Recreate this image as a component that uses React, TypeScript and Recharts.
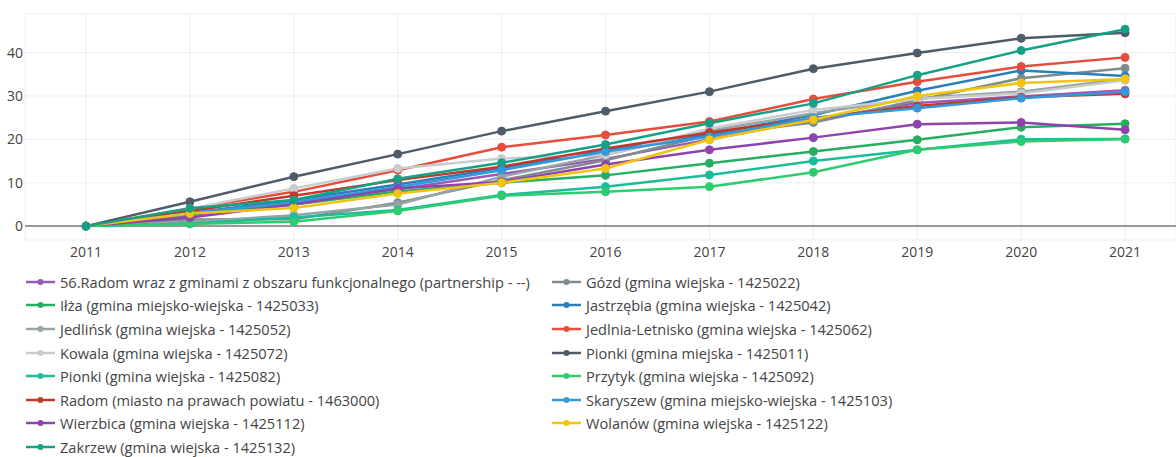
import React from 'react';
import { LineChart, Line, XAxis, YAxis, CartesianGrid, ReferenceLine } from 'recharts';

const years = [2011, 2012, 2013, 2014, 2015, 2016, 2017, 2018, 2019, 2020, 2021];

const seriesNames = [
  '56.Radom wraz z gminami z obszaru funkcjonalnego (partnership - --)',
  'Gózd (gmina wiejska - 1425022)',
  'Iłża (gmina miejsko-wiejska - 1425033)',
  'Jastrzębia (gmina wiejska - 1425042)',
  'Jedlińsk (gmina wiejska - 1425052)',
  'Jedlnia-Letnisko (gmina wiejska - 1425062)',
  'Kowala (gmina wiejska - 1425072)',
  'Pionki (gmina miejska - 1425011)',
  'Pionki (gmina wiejska - 1425082)',
  'Przytyk (gmina wiejska - 1425092)',
  'Radom (miasto na prawach powiatu - 1463000)',
  'Skaryszew (gmina miejsko-wiejska - 1425103)',
  'Wierzbica (gmina wiejska - 1425112)',
  'Wolanów (gmina wiejska - 1425122)',
  'Zakrzew (gmina wiejska - 1425132)',
];

const seriesColors = [
  '#9b59b6', '#7f8c8d', '#27ae60', '#2980b9', '#95a5a6',
  '#e74c3c', '#c8cccf', '#4f5b68', '#1abc9c', '#2ecc71',
  '#c0392b', '#3498db', '#8e44ad', '#f1c40f', '#16a085',
];

const radomArea = [0, 2.5, 5.5, 8.5, 12.0, 15.5, 20.0, 24.5, 28.4, 29.9, 31.3];
const gozd = [0, 1.5, 1.6, 5.4, 10.6, 15.2, 21.0, 23.9, 29.0, 34.1, 36.4];
const ilza = [0, 2.8, 5.0, 8.0, 10.0, 11.7, 14.5, 17.2, 19.9, 22.8, 23.6];
const jastrzebia = [0, 3.0, 6.0, 9.6, 13.4, 17.5, 21.2, 25.6, 31.2, 35.9, 34.6];
const jedlinsk = [0, 1.0, 2.5, 5.0, 11.4, 16.4, 22.0, 26.0, 29.5, 31.0, 34.0];
const jedlnia = [0, 4.0, 7.9, 12.9, 18.2, 21.0, 24.1, 29.3, 33.3, 36.8, 38.9];
const kowala = [0, 4.0, 8.7, 13.3, 15.6, 16.4, 22.5, 26.8, 29.3, 30.6, 33.6];
const pionkiM = [0, 5.6, 11.4, 16.6, 21.9, 26.5, 31.0, 36.3, 39.9, 43.3, 44.6];
const pionkiW = [0, 0.6, 2.0, 3.7, 7.2, 9.1, 11.8, 15.0, 17.6, 20.0, 20.1];
const przytyk = [0, 0.5, 1.0, 3.5, 7.0, 7.9, 9.1, 12.4, 17.6, 19.5, 20.1];
const radom = [0, 3.5, 7.0, 10.6, 13.7, 17.9, 21.6, 24.8, 27.7, 29.7, 30.5];
const skaryszew = [0, 3.0, 5.5, 9.0, 12.9, 17.2, 20.6, 25.0, 27.2, 29.5, 31.0];
const wierzbica = [0, 2.0, 5.0, 8.7, 10.2, 14.2, 17.6, 20.4, 23.5, 23.9, 22.2];
const wolanow = [0, 2.9, 4.2, 7.5, 10.0, 13.3, 19.9, 24.5, 30.0, 33.0, 33.9];
const zakrzew = [0, 4.1, 6.0, 10.9, 14.6, 18.8, 23.7, 28.3, 34.8, 40.5, 45.4];

const seriesValues = [
  radomArea, gozd, ilza, jastrzebia, jedlinsk, jedlnia, kowala, pionkiM,
  pionkiW, przytyk, radom, skaryszew, wierzbica, wolanow, zakrzew,
];

const yTicks = [0, 10, 20, 30, 40];

const data = years.map((year, i) => {
  const row: Record<string, number> = { year };
  seriesValues.forEach((vals, s) => {
    row[`s${s}`] = vals[i];
  });
  return row;
});

const font = '"Open Sans", sans-serif';
const textColor = '#444';

const LegendItem = ({ name, color }: { name: string; color: string }) => (
  <div style={{ display: 'flex', alignItems: 'center', height: 23.6 }}>
    <svg width={29} height={10} style={{ marginRight: 5 }}>
      <line x1={0} y1={5} x2={29} y2={5} stroke={color} strokeWidth={2.5} />
      <circle cx={14.5} cy={5} r={3} fill={color} />
    </svg>
    <span>{name}</span>
  </div>
);

export default function App() {
  return (
    <div style={{ position: 'absolute', left: 0, top: 0, width: 1176, height: 457, background: '#fff', fontFamily: font }}>
      <LineChart width={1176} height={270} data={data} margin={{ top: 14, right: 0, left: 0, bottom: 0 }}>
        <CartesianGrid stroke="#eee" strokeWidth={1} />
        <XAxis
          dataKey="year"
          type="number"
          domain={[2010.413, 2021.49]}
          ticks={years}
          axisLine={false}
          tickLine={false}
          tickSize={0}
          tickMargin={7}
          height={30}
          tick={{ fill: textColor, fontSize: 14, fontFamily: font }}
        />
        <YAxis
          domain={[-3.2, 48.9]}
          ticks={yTicks}
          axisLine={false}
          tickLine={false}
          tickSize={0}
          tickMargin={2}
          width={25}
          tick={{ fill: textColor, fontSize: 14, fontFamily: font }}
        />
        <ReferenceLine y={0} stroke="#999" strokeWidth={2} />
        {seriesNames.map((name, s) => (
          <Line
            key={name}
            name={name}
            dataKey={`s${s}`}
            stroke={seriesColors[s]}
            strokeWidth={2.5}
            dot={{ r: 4, fill: seriesColors[s], stroke: seriesColors[s], strokeWidth: 1 }}
            isAnimationActive={false}
          />
        ))}
      </LineChart>
      <div
        style={{
          position: 'absolute',
          left: 26,
          top: 270,
          display: 'grid',
          gridTemplateColumns: '526px 560px',
          fontSize: 14.6,
          color: textColor,
          whiteSpace: 'nowrap',
        }}
      >
        {seriesNames.map((name, s) => (
          <LegendItem key={name} name={name} color={seriesColors[s]} />
        ))}
      </div>
    </div>
  );
}
